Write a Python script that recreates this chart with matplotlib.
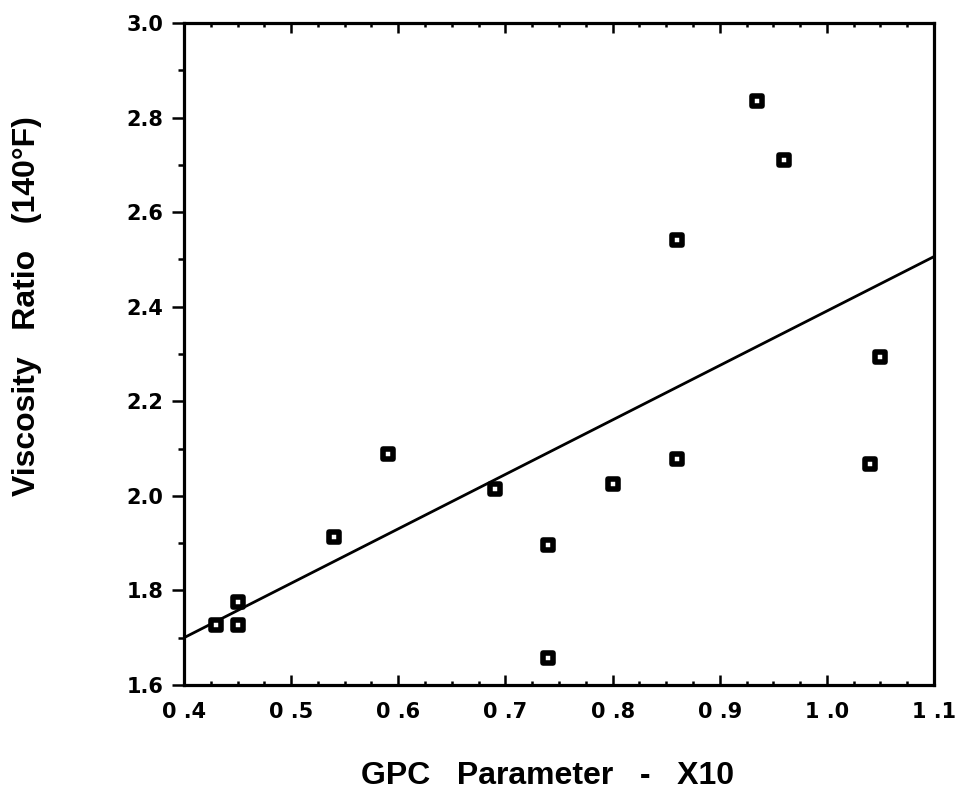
import matplotlib
matplotlib.use("Agg")
import matplotlib.pyplot as plt
from matplotlib.markers import MarkerStyle
from matplotlib.ticker import FixedLocator, FixedFormatter, MultipleLocator

# GPC parameter (x10) vs. viscosity ratio at 140°F
gpc_param = [0.43, 0.45, 0.45, 0.54, 0.59, 0.69, 0.74, 0.74, 0.80, 0.86,
             0.86, 0.935, 0.96, 1.04, 1.05]
visc_ratio = [1.727, 1.776, 1.727, 1.914, 2.088, 2.015, 1.896, 1.658, 2.025,
              2.077, 2.541, 2.834, 2.710, 2.067, 2.294]

# least-squares line end points
fit_x = [0.4, 1.1]
fit_y = [1.70, 2.506]

x_tick_values = [0.4, 0.5, 0.6, 0.7, 0.8, 0.9, 1.0, 1.1]
x_tick_labels = ["0 .4", "0 .5", "0 .6", "0 .7", "0 .8", "0 .9", "1 .0", "1 .1"]
y_tick_values = [1.6, 1.8, 2.0, 2.2, 2.4, 2.6, 2.8, 3.0]
y_tick_labels = ["1.6", "1.8", "2.0", "2.2", "2.4", "2.6", "2.8", "3.0"]

fig = plt.figure(figsize=(9.65, 7.93), dpi=100)
ax = fig.add_axes([184 / 965, 1 - 685 / 793, 750 / 965, 662 / 793])

ax.plot(fit_x, fit_y, color="black", lw=2.0, solid_capstyle="round", zorder=2)

marker = MarkerStyle("s", joinstyle="round")
ax.plot(gpc_param, visc_ratio, linestyle="none", marker=marker, markersize=7.4,
        markerfacecolor="white", markeredgecolor="black", markeredgewidth=4.0,
        zorder=3)

ax.set_xlim(0.4, 1.1)
ax.set_ylim(1.6, 3.0)

for sp in ax.spines.values():
    sp.set_linewidth(2.3)

ax.xaxis.set_major_locator(FixedLocator(x_tick_values))
ax.xaxis.set_major_formatter(FixedFormatter(x_tick_labels))
ax.xaxis.set_minor_locator(MultipleLocator(0.025))
ax.yaxis.set_major_locator(FixedLocator(y_tick_values))
ax.yaxis.set_major_formatter(FixedFormatter(y_tick_labels))
ax.yaxis.set_minor_locator(MultipleLocator(0.1))

ax.tick_params(axis="x", which="both", direction="in", top=True, bottom=True,
               width=1.8, pad=12)
ax.tick_params(axis="x", which="major", length=7.5)
ax.tick_params(axis="x", which="minor", length=3.2)
ax.tick_params(axis="y", which="both", direction="out", left=True, right=False,
               width=1.8, pad=6)
ax.tick_params(axis="y", which="major", length=8.6)
ax.tick_params(axis="y", which="minor", length=4.3)

for lbl in ax.get_xticklabels() + ax.get_yticklabels():
    lbl.set_fontfamily("DejaVu Sans")
    lbl.set_fontweight("bold")
    lbl.set_fontsize(15)

label_font = {"family": "Liberation Sans", "weight": "bold", "size": 23}
ax.set_xlabel("GPC   Parameter   -   X10", **label_font)
ax.set_ylabel("Viscosity   Ratio   (140°F)", **label_font)
ax.xaxis.set_label_coords(0.485, -0.138)
ax.xaxis.label.set_va("center")
ax.yaxis.set_label_coords(-0.209, 0.573)
ax.yaxis.label.set_va("center")

fig.savefig("out.png", dpi=100)
